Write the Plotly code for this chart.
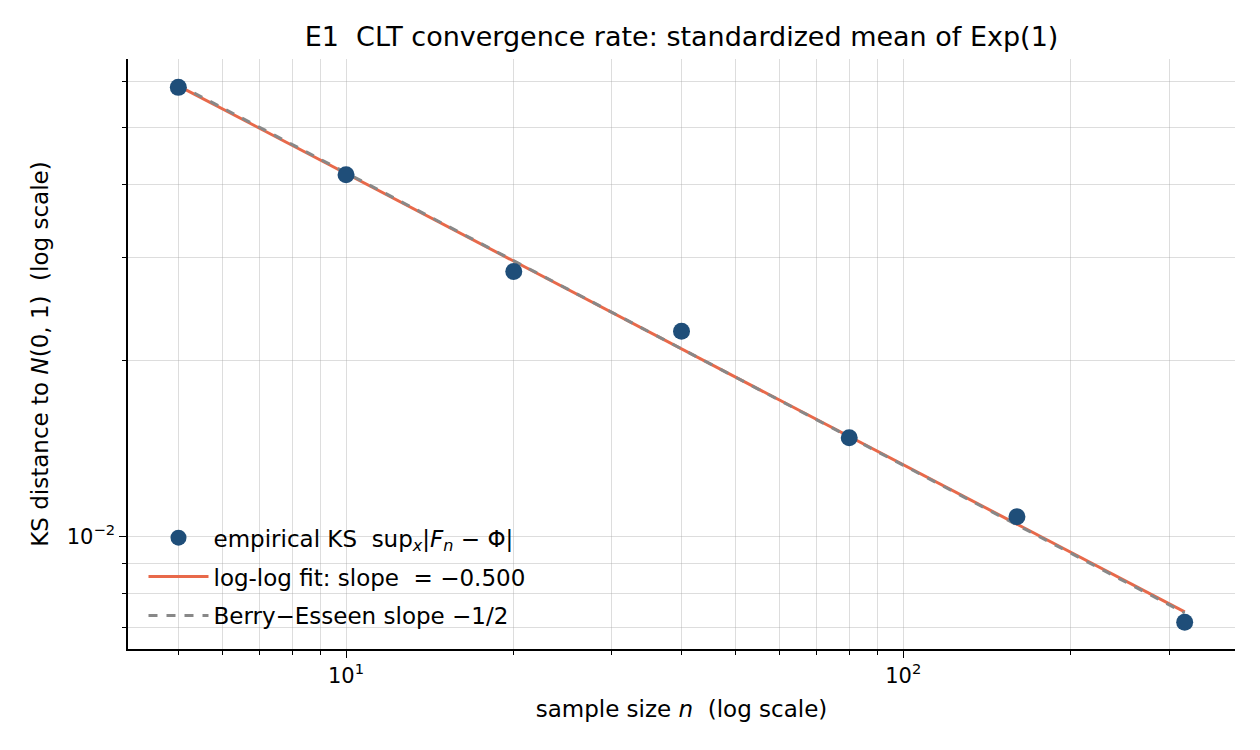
import numpy as np
import plotly.graph_objects as go

# data
n_values = [5, 10, 20, 40, 80, 160, 320]
ks_values = [0.0586, 0.04153, 0.02839, 0.02244, 0.01475, 0.01081, 0.00714]
fit_label = "log-log fit: slope  = \u22120.500"
be_label = "Berry\u2212Esseen slope \u22121/2"
pts_label = "empirical KS  sup<sub><i>x</i></sub>|<i>F<sub>n</sub></i> \u2212 \u03a6|"

x = np.array(n_values, dtype=float)
y = np.array(ks_values, dtype=float)
lx, ly = np.log10(x), np.log10(y)
slope, intercept = np.polyfit(lx, ly, 1)
fit_y = 10 ** (intercept + slope * lx)
c_be = np.mean(ly + 0.5 * lx)
be_y = 10 ** (c_be - 0.5 * lx)

FONT = "DejaVu Sans"
fig = go.Figure()
fig.add_trace(go.Scatter(x=x, y=fit_y, mode="lines", name=fit_label, legendrank=2,
                         legendgroup="fit",
                         line=dict(color="#e8694a", width=3)))
fig.add_trace(go.Scatter(x=x, y=be_y, mode="lines", name=be_label, legendrank=3,
                         legendgroup="be",
                         line=dict(color="#888888", width=3, dash="dash")))
fig.add_trace(go.Scatter(x=x, y=y, mode="markers", name=pts_label, legendrank=1,
                         legendgroup="pts",
                         marker=dict(color="#1f4e79", size=17)))

xmin, xmax = np.log10(5), np.log10(320)
xpad = 0.05 * (xmax - xmin)
ylo, yhi = np.log10(min(y.min(), fit_y.min())), np.log10(max(y.max(), fit_y.max()))
ypad = 0.05 * (yhi - ylo)

xminor = [k * 10 ** e for e in [0, 1, 2] for k in range(2, 10)]
yminor = [k * 10 ** e for e in [-3, -2] for k in range(2, 10)]
grid = "rgba(170,170,170,0.4)"

fig.update_layout(
    width=1260, height=750,
    margin=dict(l=128, r=25, t=59, b=101),
    paper_bgcolor="white", plot_bgcolor="white",
    font=dict(family=FONT, size=21, color="black"),
    title=dict(text="E1  CLT convergence rate: standardized mean of Exp(1)",
               x=0.5, xanchor="center", xref="paper", y=0.951, yanchor="middle",
               font=dict(size=27)),
    showlegend=True,
    legend=dict(x=0.014, y=0.02, xanchor="left", yanchor="bottom",
                bgcolor="rgba(0,0,0,0)", font=dict(size=23), traceorder="grouped",
                itemwidth=60, tracegroupgap=6),
)
fig.update_xaxes(type="log", range=[xmin - xpad, xmax + xpad],
                 tickvals=[10, 100], ticktext=["10<sup>1</sup>", "10<sup>2</sup>"],
                 tickfont=dict(size=21),
                 ticks="outside", ticklen=7, tickwidth=1.2, tickcolor="black",
                 showline=True, linecolor="black", linewidth=1.5, mirror=False,
                 showgrid=True, gridcolor=grid, gridwidth=1, zeroline=False,
                 minor=dict(tickvals=xminor, ticks="outside", ticklen=4, tickcolor="black",
                            showgrid=True, gridcolor=grid, gridwidth=1),
                 title=dict(text="sample size <i>n</i>  (log scale)", standoff=14,
                            font=dict(size=23)))
fig.update_yaxes(type="log", range=[ylo - ypad, yhi + ypad],
                 tickvals=[0.01], ticktext=["10<sup>\u22122</sup>"],
                 tickfont=dict(size=21),
                 ticks="outside", ticklen=7, tickwidth=1.2, tickcolor="black",
                 showline=True, linecolor="black", linewidth=1.5, mirror=False,
                 showgrid=True, gridcolor=grid, gridwidth=1, zeroline=False,
                 minor=dict(tickvals=yminor, ticks="outside", ticklen=4, tickcolor="black",
                            showgrid=True, gridcolor=grid, gridwidth=1),
                 title=dict(text="KS distance to <i>N</i>(0, 1)  (log scale)", standoff=12,
                            font=dict(size=23)))
fig.write_html("out.html")
